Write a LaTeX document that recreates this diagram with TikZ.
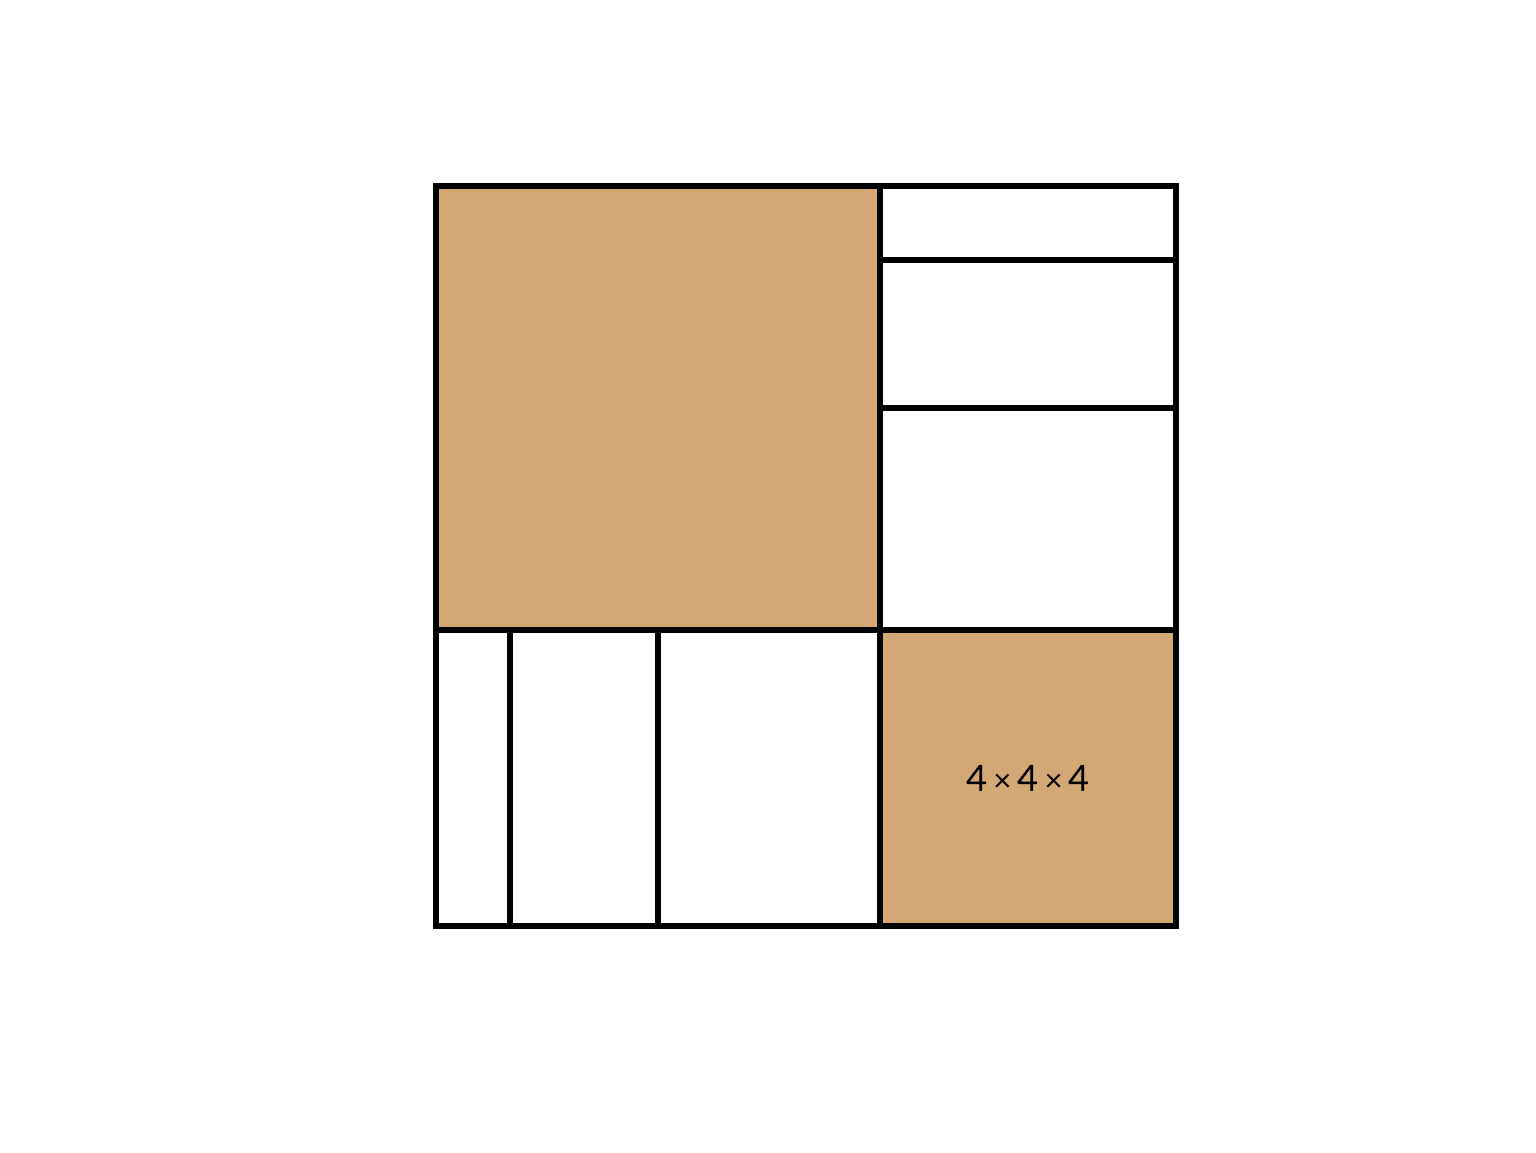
\documentclass[tikz,border=0pt]{standalone}
\usepackage{fontspec}
\setmainfont{Lato}
\definecolor{cube}{RGB}{212,168,116}
\newcommand{\smalltimes}{\,{\fontsize{12}{14}\selectfont ×}\,}
\begin{document}
\begin{tikzpicture}[line width=2.1pt, x=1cm, y=1cm]
  \useasboundingbox (-5.892,-3.054) rectangle (14.865,12.514);
  % Shaded squares
  \filldraw [fill=cube] (0, 4) rectangle (6, 10);
  \filldraw [fill=cube] (6, 0) rectangle (10, 4);
  % Right column strips
  \foreach \a/\b in {4/7, 7/9, 9/10}
    \draw (6, \a) rectangle (10, \b);
  % Bottom row strips
  \foreach \a/\b in {0/1, 1/3, 3/6}
    \draw (\a, 0) rectangle (\b, 4);
  % Label
  \node [font=\fontsize{14}{16}\selectfont] (label) at (8, 2) {4\smalltimes 4\smalltimes 4};
\end{tikzpicture}
\end{document}
